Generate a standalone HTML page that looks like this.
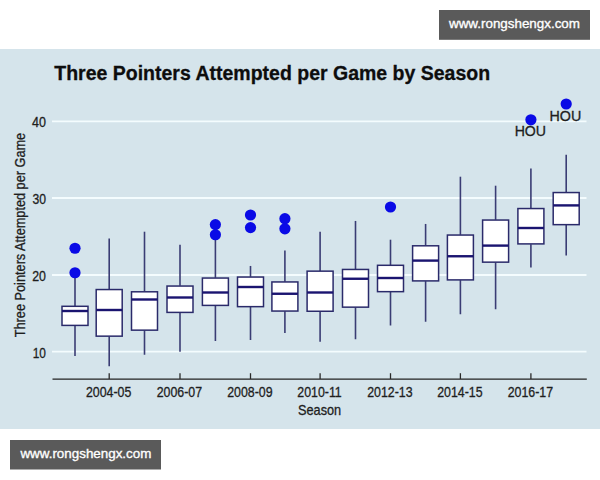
<!DOCTYPE html>
<html><head><meta charset="utf-8"><style>
html,body{margin:0;padding:0;background:#fff;width:600px;height:480px;overflow:hidden;}
#panel{position:absolute;left:0;top:48.8px;width:600px;height:379.8px;background:#d5e4eb;}
svg{position:absolute;left:0;top:0;}
.t{font-family:"Liberation Sans",sans-serif;}
</style></head><body>
<div id="panel"></div>
<svg width="600" height="480" viewBox="0 0 600 480">
<line x1="52" y1="121.3" x2="586.5" y2="121.3" stroke="#f4fcfe" stroke-width="1.8"/>
<line x1="52" y1="198.0" x2="586.5" y2="198.0" stroke="#f4fcfe" stroke-width="1.8"/>
<line x1="52" y1="275.0" x2="586.5" y2="275.0" stroke="#f4fcfe" stroke-width="1.8"/>
<line x1="52" y1="351.6" x2="586.5" y2="351.6" stroke="#f4fcfe" stroke-width="1.8"/>
<line x1="52.5" y1="379.1" x2="586.8" y2="379.1" stroke="#222" stroke-width="1.4"/>
<line x1="75.00" y1="277.2" x2="75.00" y2="306.05" stroke="#3a3c74" stroke-width="1.6"/>
<line x1="75.00" y1="325.65" x2="75.00" y2="356.0" stroke="#3a3c74" stroke-width="1.6"/>
<rect x="62.00" y="306.30" width="26.00" height="19.10" fill="#fff" stroke="#2a2a6a" stroke-width="1.5"/>
<line x1="62.00" y1="311.0" x2="88.00" y2="311.0" stroke="#1a1470" stroke-width="2.4"/>
<circle cx="75.00" cy="248.25" r="5.6" fill="#0a0ae6"/>
<circle cx="75.00" cy="272.75" r="5.6" fill="#0a0ae6"/>
<line x1="109.20" y1="238.45" x2="109.20" y2="289.3" stroke="#3a3c74" stroke-width="1.6"/>
<line x1="109.20" y1="336.4" x2="109.20" y2="366.25" stroke="#3a3c74" stroke-width="1.6"/>
<rect x="96.20" y="289.55" width="26.00" height="46.60" fill="#fff" stroke="#2a2a6a" stroke-width="1.5"/>
<line x1="96.20" y1="310.0" x2="122.20" y2="310.0" stroke="#1a1470" stroke-width="2.4"/>
<line x1="109.20" y1="373.2" x2="109.20" y2="379" stroke="#2a2a2a" stroke-width="1.3"/>
<line x1="144.50" y1="231.7" x2="144.50" y2="291.55" stroke="#3a3c74" stroke-width="1.6"/>
<line x1="144.50" y1="330.4" x2="144.50" y2="354.75" stroke="#3a3c74" stroke-width="1.6"/>
<rect x="131.50" y="291.80" width="26.00" height="38.35" fill="#fff" stroke="#2a2a6a" stroke-width="1.5"/>
<line x1="131.50" y1="299.5" x2="157.50" y2="299.5" stroke="#1a1470" stroke-width="2.4"/>
<line x1="180.00" y1="244.7" x2="180.00" y2="285.8" stroke="#3a3c74" stroke-width="1.6"/>
<line x1="180.00" y1="312.65" x2="180.00" y2="351.75" stroke="#3a3c74" stroke-width="1.6"/>
<rect x="167.00" y="286.05" width="26.00" height="26.35" fill="#fff" stroke="#2a2a6a" stroke-width="1.5"/>
<line x1="167.00" y1="297.5" x2="193.00" y2="297.5" stroke="#1a1470" stroke-width="2.4"/>
<line x1="180.00" y1="373.2" x2="180.00" y2="379" stroke="#2a2a2a" stroke-width="1.3"/>
<line x1="215.40" y1="239.7" x2="215.40" y2="277.8" stroke="#3a3c74" stroke-width="1.6"/>
<line x1="215.40" y1="305.65" x2="215.40" y2="341.0" stroke="#3a3c74" stroke-width="1.6"/>
<rect x="202.40" y="278.05" width="26.00" height="27.35" fill="#fff" stroke="#2a2a6a" stroke-width="1.5"/>
<line x1="202.40" y1="292.5" x2="228.40" y2="292.5" stroke="#1a1470" stroke-width="2.4"/>
<circle cx="215.40" cy="224.6" r="5.6" fill="#0a0ae6"/>
<circle cx="215.40" cy="234.75" r="5.6" fill="#0a0ae6"/>
<line x1="250.50" y1="265.95" x2="250.50" y2="276.8" stroke="#3a3c74" stroke-width="1.6"/>
<line x1="250.50" y1="306.9" x2="250.50" y2="340.0" stroke="#3a3c74" stroke-width="1.6"/>
<rect x="237.50" y="277.05" width="26.00" height="29.60" fill="#fff" stroke="#2a2a6a" stroke-width="1.5"/>
<line x1="237.50" y1="287.0" x2="263.50" y2="287.0" stroke="#1a1470" stroke-width="2.4"/>
<circle cx="250.50" cy="215.0" r="5.6" fill="#0a0ae6"/>
<circle cx="250.50" cy="227.6" r="5.6" fill="#0a0ae6"/>
<line x1="250.50" y1="373.2" x2="250.50" y2="379" stroke="#2a2a2a" stroke-width="1.3"/>
<line x1="284.90" y1="250.45" x2="284.90" y2="281.7" stroke="#3a3c74" stroke-width="1.6"/>
<line x1="284.90" y1="311.29999999999995" x2="284.90" y2="333.0" stroke="#3a3c74" stroke-width="1.6"/>
<rect x="271.90" y="281.95" width="26.00" height="29.10" fill="#fff" stroke="#2a2a6a" stroke-width="1.5"/>
<line x1="271.90" y1="293.75" x2="297.90" y2="293.75" stroke="#1a1470" stroke-width="2.4"/>
<circle cx="284.90" cy="218.7" r="5.6" fill="#0a0ae6"/>
<circle cx="284.90" cy="228.8" r="5.6" fill="#0a0ae6"/>
<line x1="320.10" y1="231.7" x2="320.10" y2="270.90000000000003" stroke="#3a3c74" stroke-width="1.6"/>
<line x1="320.10" y1="311.5" x2="320.10" y2="341.75" stroke="#3a3c74" stroke-width="1.6"/>
<rect x="307.10" y="271.15" width="26.00" height="40.10" fill="#fff" stroke="#2a2a6a" stroke-width="1.5"/>
<line x1="307.10" y1="292.5" x2="333.10" y2="292.5" stroke="#1a1470" stroke-width="2.4"/>
<line x1="320.10" y1="373.2" x2="320.10" y2="379" stroke="#2a2a2a" stroke-width="1.3"/>
<line x1="355.50" y1="220.95" x2="355.50" y2="269.2" stroke="#3a3c74" stroke-width="1.6"/>
<line x1="355.50" y1="307.4" x2="355.50" y2="339.25" stroke="#3a3c74" stroke-width="1.6"/>
<rect x="342.50" y="269.45" width="26.00" height="37.70" fill="#fff" stroke="#2a2a6a" stroke-width="1.5"/>
<line x1="342.50" y1="278.75" x2="368.50" y2="278.75" stroke="#1a1470" stroke-width="2.4"/>
<line x1="390.50" y1="239.7" x2="390.50" y2="265.05" stroke="#3a3c74" stroke-width="1.6"/>
<line x1="390.50" y1="291.9" x2="390.50" y2="325.5" stroke="#3a3c74" stroke-width="1.6"/>
<rect x="377.50" y="265.30" width="26.00" height="26.35" fill="#fff" stroke="#2a2a6a" stroke-width="1.5"/>
<line x1="377.50" y1="278.0" x2="403.50" y2="278.0" stroke="#1a1470" stroke-width="2.4"/>
<circle cx="390.50" cy="207.0" r="5.6" fill="#0a0ae6"/>
<line x1="390.50" y1="373.2" x2="390.50" y2="379" stroke="#2a2a2a" stroke-width="1.3"/>
<line x1="425.60" y1="223.95" x2="425.60" y2="245.55" stroke="#3a3c74" stroke-width="1.6"/>
<line x1="425.60" y1="281.15" x2="425.60" y2="321.75" stroke="#3a3c74" stroke-width="1.6"/>
<rect x="412.60" y="245.80" width="26.00" height="35.10" fill="#fff" stroke="#2a2a6a" stroke-width="1.5"/>
<line x1="412.60" y1="260.6" x2="438.60" y2="260.6" stroke="#1a1470" stroke-width="2.4"/>
<line x1="460.40" y1="176.7" x2="460.40" y2="234.8" stroke="#3a3c74" stroke-width="1.6"/>
<line x1="460.40" y1="280.15" x2="460.40" y2="314.25" stroke="#3a3c74" stroke-width="1.6"/>
<rect x="447.40" y="235.05" width="26.00" height="44.85" fill="#fff" stroke="#2a2a6a" stroke-width="1.5"/>
<line x1="447.40" y1="256.25" x2="473.40" y2="256.25" stroke="#1a1470" stroke-width="2.4"/>
<line x1="460.40" y1="373.2" x2="460.40" y2="379" stroke="#2a2a2a" stroke-width="1.3"/>
<line x1="495.60" y1="185.7" x2="495.60" y2="219.8" stroke="#3a3c74" stroke-width="1.6"/>
<line x1="495.60" y1="262.4" x2="495.60" y2="309.25" stroke="#3a3c74" stroke-width="1.6"/>
<rect x="482.60" y="220.05" width="26.00" height="42.10" fill="#fff" stroke="#2a2a6a" stroke-width="1.5"/>
<line x1="482.60" y1="245.6" x2="508.60" y2="245.6" stroke="#1a1470" stroke-width="2.4"/>
<line x1="530.90" y1="168.45" x2="530.90" y2="208.3" stroke="#3a3c74" stroke-width="1.6"/>
<line x1="530.90" y1="244.15" x2="530.90" y2="267.5" stroke="#3a3c74" stroke-width="1.6"/>
<rect x="517.90" y="208.55" width="26.00" height="35.35" fill="#fff" stroke="#2a2a6a" stroke-width="1.5"/>
<line x1="517.90" y1="228.0" x2="543.90" y2="228.0" stroke="#1a1470" stroke-width="2.4"/>
<circle cx="530.90" cy="119.8" r="5.6" fill="#0a0ae6"/>
<line x1="530.90" y1="373.2" x2="530.90" y2="379" stroke="#2a2a2a" stroke-width="1.3"/>
<line x1="566.20" y1="154.7" x2="566.20" y2="192.3" stroke="#3a3c74" stroke-width="1.6"/>
<line x1="566.20" y1="224.9" x2="566.20" y2="255.5" stroke="#3a3c74" stroke-width="1.6"/>
<rect x="553.20" y="192.55" width="26.00" height="32.10" fill="#fff" stroke="#2a2a6a" stroke-width="1.5"/>
<line x1="553.20" y1="205.4" x2="579.20" y2="205.4" stroke="#1a1470" stroke-width="2.4"/>
<circle cx="566.20" cy="104.0" r="5.6" fill="#0a0ae6"/>
<text transform="translate(54.26,80) scale(0.9510,1)" font-size="20.5" font-weight="bold" fill="#0d0d0d" stroke="#0d0d0d" stroke-width="0.3" class="t">Three Pointers Attempted per Game by Season</text>
<text transform="translate(32.08,127.1) scale(0.8949,1)" font-size="14" font-weight="normal" fill="#1e1e1e" stroke="#1e1e1e" stroke-width="0.3" class="t">40</text>
<text transform="translate(32.47,204.4) scale(0.8690,1)" font-size="14" font-weight="normal" fill="#1e1e1e" stroke="#1e1e1e" stroke-width="0.3" class="t">30</text>
<text transform="translate(32.24,280.7) scale(0.8842,1)" font-size="14" font-weight="normal" fill="#1e1e1e" stroke="#1e1e1e" stroke-width="0.3" class="t">20</text>
<text transform="translate(32.65,358.4) scale(0.8500,1)" font-size="14" font-weight="normal" fill="#1e1e1e" stroke="#1e1e1e" stroke-width="0.3" class="t">10</text>
<text transform="translate(85.94,397.4) scale(0.8840,1)" font-size="14" font-weight="normal" fill="#1e1e1e" stroke="#1e1e1e" stroke-width="0.3" class="t">2004-05</text>
<text transform="translate(156.74,397.4) scale(0.8840,1)" font-size="14" font-weight="normal" fill="#1e1e1e" stroke="#1e1e1e" stroke-width="0.3" class="t">2006-07</text>
<text transform="translate(227.24,397.4) scale(0.8840,1)" font-size="14" font-weight="normal" fill="#1e1e1e" stroke="#1e1e1e" stroke-width="0.3" class="t">2008-09</text>
<text transform="translate(297.29,397.4) scale(0.8837,1)" font-size="14" font-weight="normal" fill="#1e1e1e" stroke="#1e1e1e" stroke-width="0.3" class="t">2010-11</text>
<text transform="translate(367.24,397.4) scale(0.8840,1)" font-size="14" font-weight="normal" fill="#1e1e1e" stroke="#1e1e1e" stroke-width="0.3" class="t">2012-13</text>
<text transform="translate(437.14,397.4) scale(0.8840,1)" font-size="14" font-weight="normal" fill="#1e1e1e" stroke="#1e1e1e" stroke-width="0.3" class="t">2014-15</text>
<text transform="translate(507.64,397.4) scale(0.8840,1)" font-size="14" font-weight="normal" fill="#1e1e1e" stroke="#1e1e1e" stroke-width="0.3" class="t">2016-17</text>
<text transform="translate(298.02,414.8) scale(0.9093,1)" font-size="14" font-weight="normal" fill="#1e1e1e" stroke="#1e1e1e" stroke-width="0.3" class="t">Season</text>
<text transform="translate(25.4,337.23) rotate(-90) scale(0.9094,1)" font-size="14" fill="#1e1e1e" stroke="#1e1e1e" stroke-width="0.3" class="t">Three Pointers Attempted per Game</text>
<text transform="translate(514.63,136.0) scale(0.9773,1)" font-size="14.5" font-weight="normal" fill="#1e1e1e" stroke="#1e1e1e" stroke-width="0.3" class="t">HOU</text>
<text transform="translate(549.52,121.0) scale(0.9873,1)" font-size="14.5" font-weight="normal" fill="#1e1e1e" stroke="#1e1e1e" stroke-width="0.3" class="t">HOU</text>
<rect x="439" y="10" width="151" height="29.8" fill="#5a5a5a"/>
<rect x="10" y="440" width="151" height="29.5" fill="#5a5a5a"/>
<text transform="translate(449.00,27.8) scale(0.9928,1)" font-size="13.5" font-weight="normal" fill="#fff" stroke="#fff" stroke-width="0.35" class="t">www.rongshengx.com</text>
<text transform="translate(20.40,458.2) scale(0.9928,1)" font-size="13.5" font-weight="normal" fill="#fff" stroke="#fff" stroke-width="0.35" class="t">www.rongshengx.com</text>
</svg>
</body></html>
